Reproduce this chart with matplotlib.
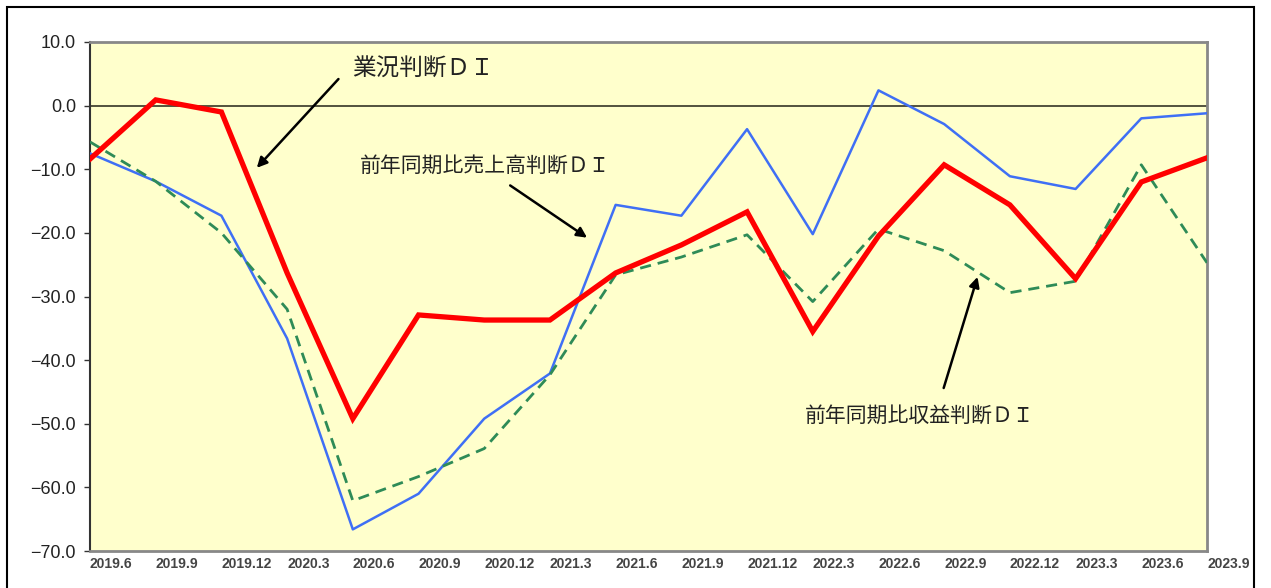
import matplotlib.pyplot as plt
from matplotlib.patches import Rectangle

quarters = ["2019.6", "2019.9", "2019.12", "2020.3", "2020.6", "2020.9", "2020.12",
            "2021.3", "2021.6", "2021.9", "2021.12", "2022.3", "2022.6", "2022.9",
            "2022.12", "2023.3", "2023.6", "2023.9"]

business_di = [-8.4, 0.9, -1.0, -26.3, -49.2, -32.9, -33.7, -33.7, -26.3, -21.9,
               -16.7, -35.5, -20.5, -9.3, -15.6, -27.2, -12.0, -8.2]
sales_di = [-7.5, -11.9, -17.3, -36.6, -66.6, -61.0, -49.2, -42.1, -15.6, -17.3,
            -3.7, -20.2, 2.4, -2.9, -11.1, -13.1, -2.0, -1.2]
profit_di = [-5.7, -11.9, -20.0, -32.0, -62.1, -58.3, -53.9, -42.3, -26.6, -23.8,
             -20.3, -30.8, -19.4, -22.8, -29.4, -27.6, -9.3, -24.7]

yticks = [10, 0, -10, -20, -30, -40, -50, -60, -70]
ylabels = ["10.0", "0.0", "−10.0", "−20.0", "−30.0", "−40.0", "−50.0", "−60.0", "−70.0"]

jp = ["Noto Sans CJK JP", "DejaVu Sans"]

fig = plt.figure(figsize=(12.71, 5.88), dpi=100)
ax = fig.add_axes([90 / 1271, 1 - 551 / 588, 1117 / 1271, 509 / 588])
ax.set_facecolor("#FFFFCC")

# outer frame
fig.patches.append(Rectangle((7 / 1271, -0.01), 1247 / 1271, 1 - 7 / 588 + 0.01,
                             transform=fig.transFigure, fill=False,
                             edgecolor="black", linewidth=1.5))

x = list(range(len(quarters)))
ax.axhline(0, color="#444433", lw=1.3, zorder=1)
ax.plot(x, sales_di, color="#3F6FF5", lw=1.8, zorder=3)
ax.plot(x, profit_di, color="#2E8B57", lw=2.0, ls=(0, (4, 2.5)), zorder=3)
ax.plot(x, business_di, color="#FF0000", lw=3.8, zorder=4, solid_joinstyle="miter")

ax.set_xlim(0, 17)
ax.set_ylim(-70, 10)
ax.set_yticks(yticks)
ax.set_yticklabels(ylabels, fontsize=13, fontfamily="Liberation Sans", color="#222222")
ax.set_xticks(x)
ax.set_xticklabels(quarters, fontsize=10, fontfamily="Liberation Sans", fontweight="bold",
                   color="#444444", ha="left")
ax.tick_params(axis="x", length=0, pad=4)
ax.tick_params(axis="y", length=4, width=1, color="#333333", pad=6)

for s in ax.spines.values():
    s.set_color("#888888")
    s.set_linewidth(2)
ax.spines["left"].set_color("#333333")
ax.spines["left"].set_linewidth(1.5)

arrow = dict(arrowstyle="-|>", color="black", lw=1.8, mutation_scale=15)
ax.annotate("", xy=(2.51, -10.1), xytext=(3.81, 4.5), arrowprops=arrow)
ax.text(3.99, 5.7, "業況判断ＤＩ", fontsize=17, family=jp, ha="left", va="center", color="#222222")

ax.annotate("", xy=(7.60, -21.0), xytext=(6.36, -12.3), arrowprops=arrow)
ax.text(4.11, -9.5, "前年同期比売上高判断ＤＩ", fontsize=15, family=jp, ha="left", va="center",
        color="#222222")

ax.annotate("", xy=(13.52, -26.5), xytext=(12.98, -44.8), arrowprops=arrow)
ax.text(10.88, -48.7, "前年同期比収益判断ＤＩ", fontsize=15, family=jp, ha="left", va="center",
        color="#222222")

fig.savefig("out.png", dpi=100)
